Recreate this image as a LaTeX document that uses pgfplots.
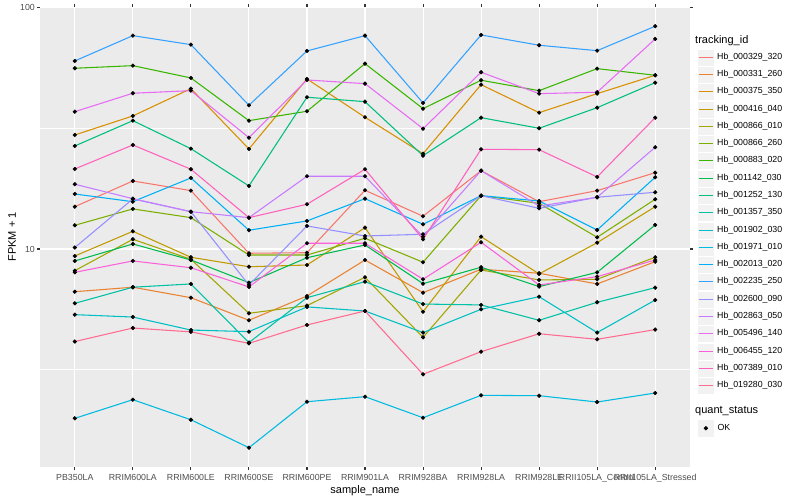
\documentclass[border=0pt]{standalone}
\usepackage{fontspec}
\setmainfont{Liberation Sans}
\usepackage{pgfplots}
\usepackage{pgfplotstable}
\pgfplotsset{compat=1.18}
\definecolor{bg}{HTML}{EBEBEB}
\definecolor{keybg}{HTML}{F2F2F2}
\definecolor{gtwenty}{HTML}{333333}
\definecolor{gthirty}{HTML}{4D4D4D}
\definecolor{c1}{HTML}{F8766D}
\definecolor{c2}{HTML}{EA8331}
\definecolor{c3}{HTML}{D89000}
\definecolor{c4}{HTML}{C09B00}
\definecolor{c5}{HTML}{A3A500}
\definecolor{c6}{HTML}{7CAE00}
\definecolor{c7}{HTML}{39B600}
\definecolor{c8}{HTML}{00BB4E}
\definecolor{c9}{HTML}{00BF7D}
\definecolor{c10}{HTML}{00C1A3}
\definecolor{c11}{HTML}{00BFC4}
\definecolor{c12}{HTML}{00BAE0}
\definecolor{c13}{HTML}{00B0F6}
\definecolor{c14}{HTML}{35A2FF}
\definecolor{c15}{HTML}{9590FF}
\definecolor{c16}{HTML}{C77CFF}
\definecolor{c17}{HTML}{E76BF3}
\definecolor{c18}{HTML}{FA62DB}
\definecolor{c19}{HTML}{FF62BC}
\definecolor{c20}{HTML}{FF6C91}

\pgfplotsset{
  keypoint/.style={legend image code/.code={
    \fill[keybg, draw=white, line width=0.5pt] (0pt,-8.64pt) rectangle (17.28pt,8.64pt);
    \draw[black, mark=*, mark size=1.9pt, only marks] plot coordinates {(8.64pt,0pt)};}},
}

\pgfplotstableread{
x s1 s2 s3 s4 s5 s6 s7 s8 s9 s10 s11 s12 s13 s14 s15 s16 s17 s18 s19 s20
1 14.98 6.65 29.72 9.35 8.13 12.54 56.21 8.92 26.75 5.95 5.34 1.984 16.91 60.27 10.14 18.56 37.13 8.00 21.48 4.13
2 19.15 6.94 35.64 11.84 10.97 14.66 57.62 10.49 34.07 6.94 5.22 2.370 15.71 76.76 16.13 16.17 44.27 8.92 27.01 4.70
3 17.46 6.28 46.25 9.24 9.06 13.49 51.23 9.00 26.07 7.16 4.61 1.957 19.71 70.42 14.28 14.28 45.37 8.36 21.42 4.53
4 9.60 5.06 26.00 8.44 5.41 9.44 34.07 7.25 18.26 4.09 4.54 1.498 11.96 39.47 7.09 13.49 28.96 6.96 13.49 4.06
5 9.65 6.38 50.75 8.58 5.82 9.44 37.27 9.20 42.61 6.28 5.75 2.325 13.07 66.31 12.46 20.03 50.26 10.56 15.33 4.84
6 17.52 9.00 35.19 12.26 7.63 11.08 58.73 10.39 40.85 7.32 5.53 2.439 16.17 76.76 11.32 20.03 48.52 10.56 21.42 5.53
7 13.67 6.59 24.85 5.49 4.30 8.81 38.21 7.18 24.38 5.91 4.50 1.995 12.66 40.35 11.51 11.25 31.56 7.49 10.97 3.02
8 21.13 8.24 48.05 11.25 8.18 16.64 50.12 8.40 35.06 5.86 5.62 2.471 16.64 77.27 16.64 21.13 54.10 10.66 25.92 3.75
9 15.71 7.93 36.78 7.88 7.44 15.47 45.37 6.98 31.68 5.06 6.34 2.462 15.82 70.02 14.75 15.08 44.10 7.09 25.82 4.45
10 17.46 7.16 44.10 10.62 7.49 11.18 55.99 8.00 38.57 6.01 4.50 2.318 11.99 66.49 16.39 16.39 44.69 7.68 19.90 4.22
11 20.73 8.86 52.57 14.98 9.24 16.08 52.57 12.58 48.98 6.91 6.14 2.526 19.84 83.97 17.19 26.42 74.38 9.00 35.06 4.63
}\data

\begin{document}
\begin{tikzpicture}
\path[use as bounding box] (-40pt,-33pt) rectangle (760pt,467pt);
\begin{axis}[
  scale only axis, width=650pt, height=460pt,
  at={(0pt,0pt)}, anchor=south west,
  xmin=0.4, xmax=11.6,
  ymode=log, ymin=1.246, ymax=100.9,
  xtick={1,2,3,4,5,6,7,8,9,10,11},
  xticklabels={PB350LA,RRIM600LA,RRIM600LE,RRIM600SE,RRIM600PE,RRIM901LA,RRIM928BA,RRIM928LA,RRIM928LE,RRII105LA\_Control,RRII105LA\_Stressed},
  ytick={10,100}, yticklabels={10,100},
  minor ytick={3.1623,31.623},
  grid=both,
  major grid style={white, line width=1.07pt},
  minor grid style={white, line width=0.53pt},
  axis background/.style={fill=bg},
  axis line style={draw=none},
  tick align=outside, major tick length=2.75pt, minor tick length=0pt,
  tick style={color=gtwenty, line width=1.07pt},
  ticklabel style={font=\fontsize{8.8}{10}\selectfont, text=gthirty},
  xticklabel style={inner sep=0pt, anchor=north, yshift=-4.5pt},
  yticklabel style={inner sep=0pt, anchor=east, xshift=-2.2pt},
  xlabel={sample\_name}, ylabel={FPKM + 1},
  label style={font=\fontsize{11}{13}\selectfont},
  xlabel style={at={(axis description cs:0.5,-0.0522)}, anchor=center, inner sep=0pt},
  ylabel style={at={(axis description cs:-0.0431,0.5)}, anchor=center, inner sep=0pt},
  legend style={at={(axis description cs:1.01077,0.1035)}, anchor=north west,
    draw=none, fill=none, inner sep=0pt, outer sep=0pt, row sep=0pt, column sep=2.75pt,
    font=\fontsize{8.8}{10}\selectfont, nodes={inner sep=0pt}, cells={anchor=west}},
  legend cell align=left,
]
\pgfplotsinvokeforeach{1,...,20}{
  \addplot[color=c#1, line width=1.07pt, mark=none, forget plot] table[x=x, y=s#1] {\data};
}
\pgfplotsinvokeforeach{1,...,20}{
  \addplot[only marks, mark=*, mark size=1.9pt, black, forget plot] table[x=x, y=s#1] {\data};
}
\addlegendimage{keypoint}
\legend{OK}
\end{axis}
\node[anchor=west, inner sep=0pt, font=\fontsize{11}{13}\selectfont] at (655pt,426.3pt) {tracking\_id};
\foreach \c/\t/\y in {c1/Hb\_000329\_320/409.5,c2/Hb\_000331\_260/392.5,c3/Hb\_000375\_350/375.5,c4/Hb\_000416\_040/357.5,c5/Hb\_000866\_010/340.5,c6/Hb\_000866\_260/323.5,c7/Hb\_000883\_020/306.5,c8/Hb\_001142\_030/288.5,c9/Hb\_001252\_130/271.5,c10/Hb\_001357\_350/254.5,c11/Hb\_001902\_030/236.5,c12/Hb\_001971\_010/219.5,c13/Hb\_002013\_020/202.5,c14/Hb\_002235\_250/185.5,c15/Hb\_002600\_090/167.5,c16/Hb\_002863\_050/150.5,c17/Hb\_005496\_140/133.5,c18/Hb\_006455\_120/115.5,c19/Hb\_007389\_010/98.5,c20/Hb\_019280\_030/81.5}{
  \fill[keybg, draw=white, line width=0.5pt] ({657pt},{\y pt-8.64pt}) rectangle ++(17.28pt,17.28pt);
  \draw[color=\c, line width=1.8pt] ({658.5pt},{\y pt}) -- ++(14.3pt,0pt);
  \node[anchor=west, inner sep=0pt, font=\fontsize{8.8}{10}\selectfont] at ({677pt},{\y pt}) {\t};
}
\node[anchor=west, inner sep=0pt, font=\fontsize{11}{13}\selectfont] at (655pt,56pt) {quant\_status};
\end{tikzpicture}
\end{document}
